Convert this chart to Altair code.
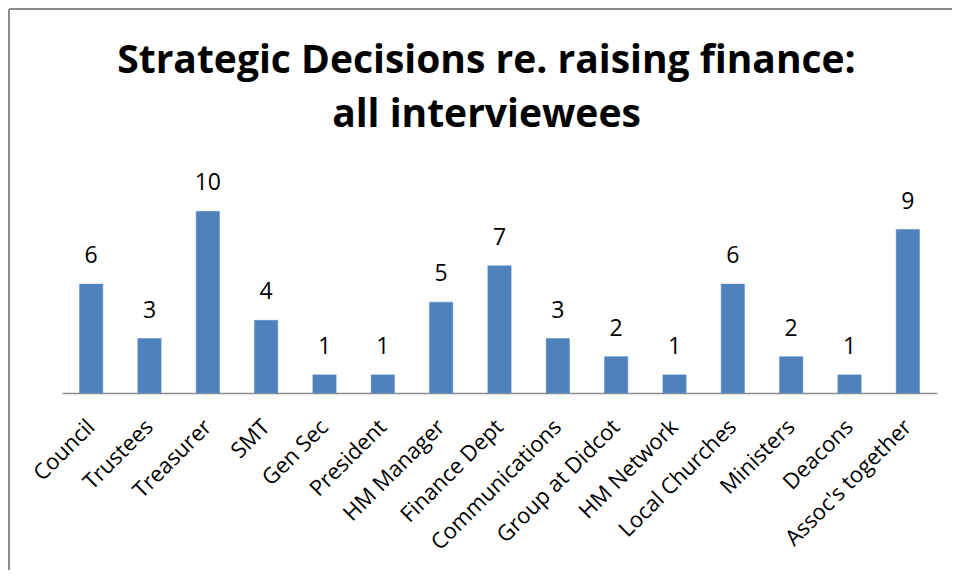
import altair as alt
import pandas as pd

categories = ["Council", "Trustees", "Treasurer", "SMT", "Gen Sec", "President",
              "HM Manager", "Finance Dept", "Communications", "Group at Didcot",
              "HM Network", "Local Churches", "Ministers", "Deacons", "Assoc's together"]
values = [6, 3, 10, 4, 1, 1, 5, 7, 3, 2, 1, 6, 2, 1, 9]

df = pd.DataFrame({"role": categories, "count": values})

FONT = "Open Sans"

x = alt.X("role:N", sort=categories, title=None,
          scale=alt.Scale(paddingInner=0.6, paddingOuter=0.3),
          axis=alt.Axis(labelAngle=-45, labelAlign="right", labelBaseline="middle",
                        labelFontSize=22, labelFont=FONT, labelColor="black",
                        ticks=False, domainColor="#8c8c8c", domainWidth=1.5,
                        labelPadding=30, labelOverlap=False))
y = alt.Y("count:Q", title=None, scale=alt.Scale(domain=[0, 12]), axis=None)

bars = alt.Chart(df).mark_bar(color="#4F81BD", stroke="#5b8cc8", strokeWidth=0.5).encode(x=x, y=y)
labels = alt.Chart(df).mark_text(baseline="bottom", dy=-16, fontSize=23, font=FONT, color="black").encode(
    x=x, y=y, text="count:Q")

border_top = alt.Chart(df).mark_rule(color="#8c8c8c", strokeWidth=2).encode(
    x=alt.value(-53), x2=alt.value(900), y=alt.value(-166))
border_left = alt.Chart(df).mark_rule(color="#8c8c8c", strokeWidth=2).encode(
    x=alt.value(-53), y=alt.value(-166), y2=alt.value(400))

chart = alt.layer(bars, labels, border_top, border_left).properties(
    width=875, height=218,
    background="white",
    autosize=alt.AutoSizeParams(type="none"),
    padding={"left": 54, "top": 167, "right": 15, "bottom": 177},
    title=alt.Title(["Strategic Decisions re. raising finance:", "all interviewees"],
                    font=FONT, fontSize=39, fontWeight="bold", color="black",
                    anchor="middle", dx=-13, offset=-166, lineHeight=54,
                    frame="group", baseline="bottom"),
).configure_view(strokeWidth=0, stroke="transparent")

chart.save("out.html", embed_options={"renderer": "svg", "actions": False})
